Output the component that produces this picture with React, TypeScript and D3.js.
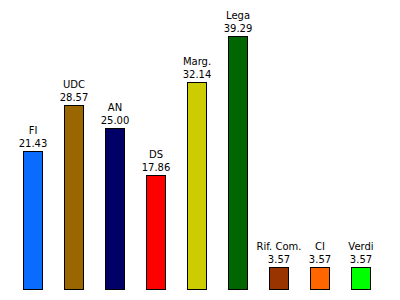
import React from "react";
import * as d3 from "d3";

const categories = ["FI", "UDC", "AN", "DS", "Marg.", "Lega", "Rif. Com.", "CI", "Verdi"];
const values = [21.43, 28.57, 25.0, 17.86, 32.14, 39.29, 3.57, 3.57, 3.57];
const colors = ["#0a6cff", "#996600", "#000066", "#ff0000", "#cccc00", "#006600", "#993300", "#ff6600", "#00ff00"];

export default function App() {
  const W = 400, H = 300;
  const x = d3.scalePoint<string>().domain(categories).range([33, 361]);
  const y = d3.scaleLinear().domain([0, 39.29]).range([290, 36]);
  const bw = 20;
  return (
    <svg width={W} height={H} style={{ position: "fixed", left: 0, top: 0, background: "#fff" }}
      fontFamily="'DejaVu Sans', Verdana, sans-serif" fontSize={10}>
      <rect x={0} y={0} width={W} height={H} fill="#fff" />
      {categories.map((c, i) => {
        const cx = x(c)!;
        const top = Math.round(y(values[i]));
        return (
          <g key={c}>
            <rect x={cx - bw / 2 + 0.5} y={top + 0.5} width={bw - 1} height={y(0) - top - 1}
              fill={colors[i]} stroke="#000" strokeWidth={1} />
            <text x={cx} y={top - 17} textAnchor="middle" fill="#000">{c}</text>
            <text x={cx} y={top - 4} textAnchor="middle" fill="#000">{values[i].toFixed(2)}</text>
          </g>
        );
      })}
    </svg>
  );
}
